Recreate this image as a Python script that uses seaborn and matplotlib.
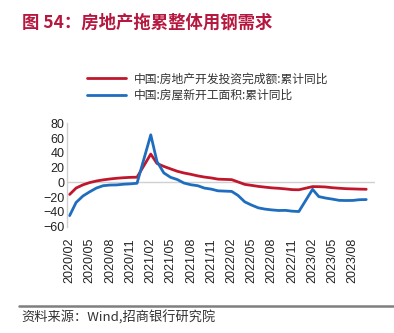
import numpy as np
import pandas as pd
import matplotlib
matplotlib.use("Agg")
import matplotlib.pyplot as plt
import matplotlib.dates as mdates
from matplotlib.lines import Line2D
import seaborn as sns

sns.set_theme(style="white")
plt.rcParams['font.family'] = ['Noto Sans CJK SC', 'DejaVu Sans']

title = "图 54：房地产拖累整体用钢需求"
source = "资料来源：Wind,招商银行研究院"
name_inv = "中国:房地产开发投资完成额:累计同比"
name_new = "中国:房屋新开工面积:累计同比"

months = (["2020-%02d" % m for m in range(2, 13)] +
          ["2021-%02d" % m for m in range(2, 13)] +
          ["2022-%02d" % m for m in range(2, 13)] +
          ["2023-%02d" % m for m in range(2, 11)])

inv = [-16.3, -7.7, -3.3, -0.3, 1.9, 3.4, 4.6, 5.6, 6.3, 6.8, 7.0,
       38.3, 25.6, 21.6, 18.3, 15.0, 12.7, 10.9, 8.8, 7.2, 6.0, 4.4,
       3.7, 0.7, -2.7, -4.0, -5.4, -6.4, -7.4, -8.0, -8.8, -9.8, -10.0,
       -5.7, -5.8, -6.2, -7.2, -7.9, -8.5, -8.8, -9.1, -9.3]

new = [-44.9, -27.2, -18.4, -12.8, -7.6, -4.5, -3.6, -3.4, -2.5, -2.0, -1.2,
       64.3, 28.2, 12.8, 6.9, 3.8, -0.9, -3.2, -4.5, -7.7, -9.1, -11.4,
       -12.2, -17.5, -26.3, -30.6, -34.4, -36.1, -37.2, -38.0, -37.8, -38.9, -39.4,
       -9.4, -19.2, -21.2, -22.6, -24.3, -24.5, -24.4, -23.4, -23.2]

yticks = [80, 60, 40, 20, 0, -20, -40, -60]

df = pd.DataFrame({"date": pd.to_datetime(months), name_inv: inv, name_new: new})
long = df.melt(id_vars="date", var_name="series", value_name="value")

red = "#C0172D"
blue = "#1F6DBE"

fig = plt.figure(figsize=(3.94, 3.33), dpi=100)
ax = fig.add_axes([0.170, 0.319, 0.782, 0.311])

sns.lineplot(data=long, x="date", y="value", hue="series",
             palette={name_inv: red, name_new: blue}, linewidth=2.0,
             ax=ax, legend=False)

ax.set_ylim(-60, 80)
ax.set_yticks(yticks)
ax.set_xlim(pd.Timestamp("2020-01-20"), pd.Timestamp("2023-11-10"))
tick_dates = pd.date_range("2020-02-01", "2023-08-01", freq="3MS")
ax.set_xticks(tick_dates)
ax.set_xticklabels([d.strftime("%Y/%m") for d in tick_dates], rotation=90,
                   fontsize=9, family=['Liberation Sans'], color="#222222")
for lbl in ax.get_yticklabels():
    lbl.set_fontsize(9)
    lbl.set_family(['Liberation Sans'])
    lbl.set_color("#222222")
ax.set_xlabel("")
ax.set_ylabel("")
ax.axhline(0, color="#D0D0D0", linewidth=1.0, zorder=0)
for s in ["top", "right", "bottom"]:
    ax.spines[s].set_visible(False)
ax.spines["left"].set_color("#D0D0D0")
ax.spines["left"].set_linewidth(1.0)
ax.tick_params(axis="y", length=0, pad=2)
ax.tick_params(axis="x", length=0, pad=8)
ax.grid(False)

handles = [Line2D([], [], color=red, linewidth=2.0),
           Line2D([], [], color=blue, linewidth=2.0)]
fig.legend(handles, [name_inv, name_new], loc="upper left",
           bbox_to_anchor=(0.195, 0.815), frameon=False, fontsize=8.5,
           handlelength=3.3, handletextpad=0.6, labelspacing=0.3,
           labelcolor="#333333")

fig.text(0.055, 0.932, title, fontsize=12.5, fontweight="bold",
         color="#B5173E", va="center", ha="left")
fig.add_artist(Line2D([0.048, 1.0], [0.080, 0.080], color="#7F7F7F",
                      linewidth=1.8, transform=fig.transFigure))
fig.text(0.055, 0.045, source, fontsize=9.5, color="#333333",
         va="center", ha="left")

fig.savefig("out.png", dpi=100)
